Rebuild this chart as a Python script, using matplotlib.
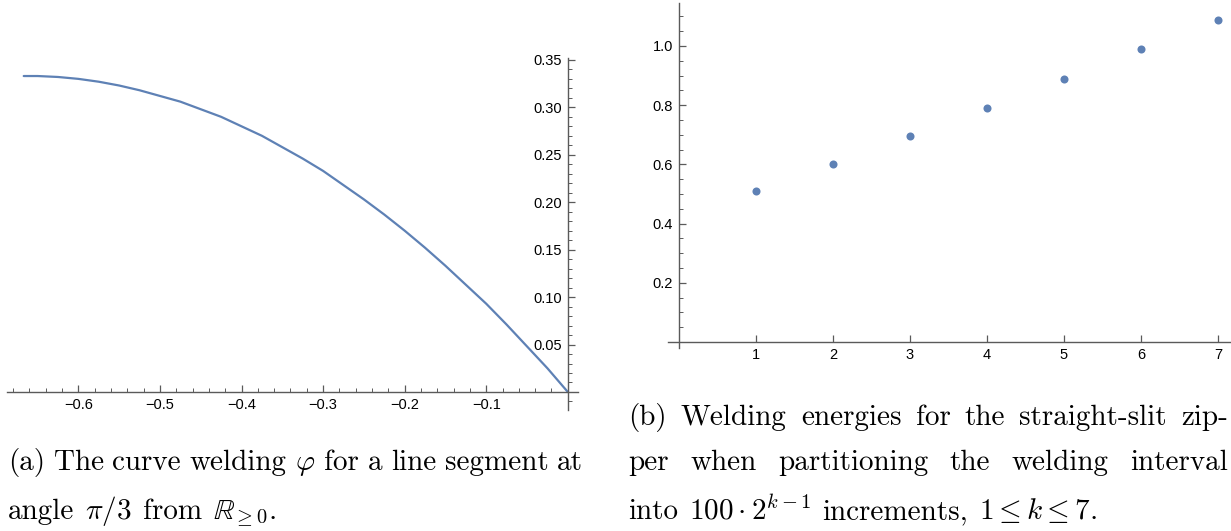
import numpy as np
import matplotlib
matplotlib.use("Agg")
import matplotlib.pyplot as plt
from matplotlib.ticker import MultipleLocator, FuncFormatter

# data
# (a) curve welding
phi_x = [-0.667, -0.65, -0.625, -0.6, -0.575, -0.55, -0.525, -0.5, -0.475,
         -0.45, -0.425, -0.4, -0.375, -0.35, -0.325, -0.3, -0.275, -0.25,
         -0.225, -0.2, -0.175, -0.15, -0.125, -0.1, -0.075, -0.05, -0.025, 0.0]
phi_y = [0.333, 0.333, 0.332, 0.330, 0.327, 0.323, 0.318, 0.312, 0.306,
         0.298, 0.290, 0.280, 0.270, 0.258, 0.246, 0.233, 0.218, 0.203,
         0.187, 0.170, 0.152, 0.133, 0.113, 0.093, 0.071, 0.048, 0.025, 0.0]

# (b) welding energies
k = [1, 2, 3, 4, 5, 6, 7]
energy = [0.511, 0.602, 0.695, 0.791, 0.888, 0.988, 1.088]

cap_a = [["(a)", "The", "curve", "welding", r"$\varphi$", "for", "a", "line", "segment", "at"],
         ["angle", r"$\pi/3$", "from", r"$\mathbb{R}_{\geq 0}$."]]
cap_b = [["(b)", "Welding", "energies", "for", "the", "straight-slit", "zip-"],
         ["per", "when", "partitioning", "the", "welding", "interval"],
         ["into", r"$100\cdot 2^{k-1}$", "increments,", r"$1\leq k\leq 7$."]]

W, H = 1231, 531
blue = (0.368, 0.507, 0.710)
axcol = '#5a5a5a'

plt.rcParams['mathtext.fontset'] = 'cm'
plt.rcParams['font.family'] = 'Liberation Sans'
plt.rcParams['axes.unicode_minus'] = True

fig = plt.figure(figsize=(W / 100, H / 100), dpi=100)

def px_axes(x0, x1, ytop, ybot):
    return fig.add_axes([x0 / W, (H - ybot) / H, (x1 - x0) / W, (ybot - ytop) / H])

def mathematica_axes(ax):
    for s in ['top', 'right']:
        ax.spines[s].set_visible(False)
    for s in ['left', 'bottom']:
        ax.spines[s].set_position(('data', 0))
        ax.spines[s].set_color(axcol)
        ax.spines[s].set_linewidth(1.0)
    ax.patch.set_visible(False)
    ax.tick_params(which='both', direction='in', color=axcol, labelsize=10.5,
                   labelcolor='black', pad=4)
    ax.tick_params(which='major', length=5, width=0.9)
    ax.tick_params(which='minor', length=3, width=0.7)

minus = lambda fmt: FuncFormatter(lambda v, p: (fmt % v).replace('-', '\u2212'))

# left panel
ax1 = px_axes(7, 578, 58, 410)
ax1.plot(phi_x, phi_y, color=blue, lw=1.6, solid_capstyle='round')
ax1.set_xlim(-0.6875, 0.0125)
ax1.set_ylim(-0.019, 0.352)
mathematica_axes(ax1)
ax1.set_xticks([-0.6, -0.5, -0.4, -0.3, -0.2, -0.1])
ax1.set_yticks([0.05, 0.10, 0.15, 0.20, 0.25, 0.30, 0.35])
ax1.xaxis.set_minor_locator(MultipleLocator(0.02))
ax1.yaxis.set_minor_locator(MultipleLocator(0.01))
ax1.xaxis.set_major_formatter(minus('%.1f'))
ax1.yaxis.set_major_formatter(minus('%.2f'))

# right panel
ax2 = px_axes(668, 1231, 3, 348)
ax2.plot(k, energy, 'o', color=blue, ms=5.8, mec='none')
ax2.set_xlim(-0.14, 7.17)
ax2.set_ylim(-0.02, 1.145)
mathematica_axes(ax2)
ax2.set_xticks(k)
ax2.set_yticks([0.2, 0.4, 0.6, 0.8, 1.0])
ax2.yaxis.set_minor_locator(MultipleLocator(0.05))
ax2.yaxis.set_major_formatter(minus('%.1f'))

# captions, justified like LaTeX
renderer = fig.canvas.get_renderer()

def caption_line(words, x0, x1, ybase, justify=True):
    texts = [fig.text(0, (H - ybase) / H, w, family='cmr10', fontsize=21,
                      va='baseline', ha='left') for w in words]
    widths = [t.get_window_extent(renderer).width for t in texts]
    if justify and len(words) > 1:
        gap = (x1 - x0 - sum(widths)) / (len(words) - 1)
    else:
        gap = 11.0
    x = x0
    for t, w in zip(texts, widths):
        t.set_x(x / W)
        x += w + gap

caption_line(cap_a[0], 8, 583, 470)
caption_line(cap_a[1], 8, 583, 519, justify=False)
caption_line(cap_b[0], 628, 1228, 425)
caption_line(cap_b[1], 628, 1228, 470)
caption_line(cap_b[2], 628, 1228, 519, justify=False)

plt.savefig('out.png', dpi=100)
